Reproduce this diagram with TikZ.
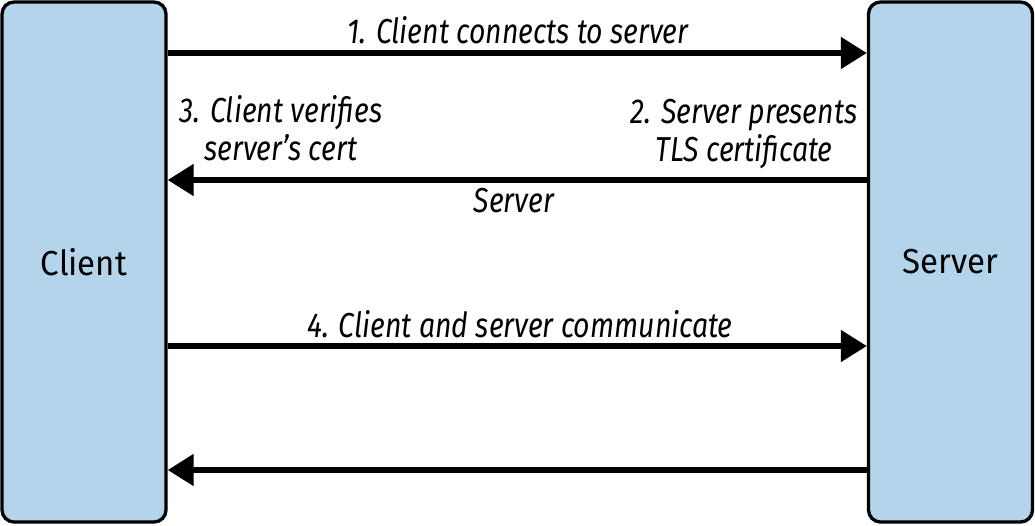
\documentclass[tikz,border=0pt]{standalone}
\usepackage{fontspec}
\setmainfont{Fira Sans}[UprightFeatures={FakeStretch=0.95}, ItalicFeatures={FakeStretch=0.82}]
\usetikzlibrary{arrows.meta}
\definecolor{boxblue}{HTML}{B3D4EA}

\begin{document}
\begin{tikzpicture}[x=0.75pt,y=-0.75pt,
	party/.style={draw=black, line width=2.5pt, fill=boxblue, rounded corners=9pt, minimum width=123pt, minimum height=390pt, inner sep=0pt, font=\fontsize{26}{28}\selectfont},
	msg/.style={line width=4.5pt, -{Triangle[length=19.5pt,width=23pt]}},
	lbl/.style={font=\itshape\fontsize{26}{28.5}\selectfont, align=center, inner sep=0pt}]
	\useasboundingbox (0,0) rectangle (1035,525);
	\node[party] (client) at (84,262) {Client};
	\node[party] (server) at (950.5,262) {Server};

	% message heights
	\coordinate (m1) at (0,53);
	\coordinate (m2) at (0,180);
	\coordinate (m3) at (0,346);
	\coordinate (m4) at (0,470);

	% messages
	\draw[msg] (client.east |- m1) -- (server.west |- m1);
	\draw[msg] (server.west |- m2) -- (client.east |- m2);
	\draw[msg] (client.east |- m3) -- (server.west |- m3);
	\draw[msg] (server.west |- m4) -- (client.east |- m4);

	% labels
	\node[lbl, anchor=base] (connect) at (518,43) {1. Client connects to server};
	\node[lbl, anchor=base] (present) at (744,161) {2. Server presents\\TLS certificate};
	\node[lbl, anchor=base] (verify) at (281,160) {3. Client verifies\\server’s cert};
	\node[lbl, anchor=base] (cert) at (514,212) {Server};
	\node[lbl, anchor=base] (talk) at (520,337) {4. Client and server communicate};
\end{tikzpicture}
\end{document}
